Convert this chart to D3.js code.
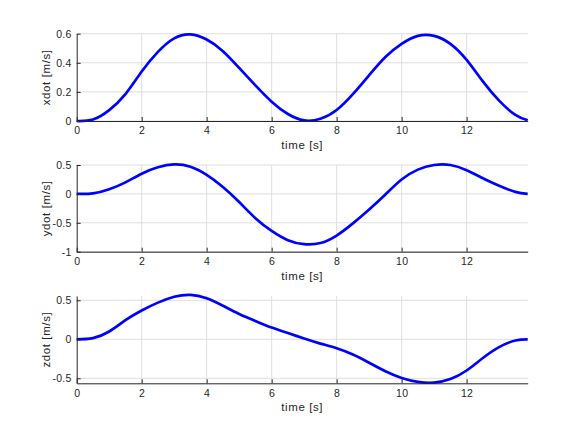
<!DOCTYPE html>
<html>
<head>
<meta charset="utf-8">
<script src="https://cdn.jsdelivr.net/npm/d3@7"></script>
<style>
  body { margin: 0; background: #fff; }
  svg text { font-family: "Liberation Sans", Arial, sans-serif; fill: #262626; }
</style>
</head>
<body>
<svg width="583" height="437"></svg>
<script>
// time samples [s]
var time = [0, 0.5, 1, 1.5, 2, 2.5, 3, 3.5, 4, 4.5, 5, 5.5, 6, 6.5, 7, 7.5, 8, 8.5, 9, 9.5,
            10, 10.5, 11, 11.5, 12, 12.5, 13, 13.5, 13.88];

var xdot = [0, 0.01, 0.075, 0.185, 0.34, 0.475, 0.568, 0.595, 0.56, 0.48, 0.365, 0.245, 0.133, 0.048, 0.004,
            0.015, 0.076, 0.185, 0.315, 0.44, 0.53, 0.585, 0.585, 0.53, 0.42, 0.272, 0.14, 0.042, 0.005];

var ydot = [0, 0.008, 0.08, 0.2, 0.35, 0.46, 0.51, 0.47, 0.33, 0.12, -0.14, -0.42, -0.64, -0.8, -0.87,
            -0.85, -0.72, -0.51, -0.27, -0.01, 0.25, 0.42, 0.5, 0.5, 0.41, 0.27, 0.14, 0.035, 0];

var zdot = [0, 0.015, 0.1, 0.245, 0.37, 0.47, 0.545, 0.57, 0.525, 0.43, 0.325, 0.235, 0.15, 0.08, 0.01,
            -0.055, -0.115, -0.195, -0.3, -0.41, -0.495, -0.545, -0.555, -0.51, -0.4, -0.24, -0.1, -0.015, 0];

var xTicks = [0, 2, 4, 6, 8, 10, 12];

var panels = [
  {label: "xdot [m/s]", values: xdot, top: 33.7, bottom: 121, domain: [0, 0.6], ticks: [0, 0.2, 0.4, 0.6]},
  {label: "ydot [m/s]", values: ydot, top: 165, bottom: 251.7, domain: [-1, 0.5], ticks: [-1, -0.5, 0, 0.5]},
  {label: "zdot [m/s]", values: zdot, top: 296, bottom: 383.3, domain: [-0.564, 0.555], ticks: [-0.5, 0, 0.5]}
];

var svg = d3.select("svg");
var left = 76.7, right = 527.7;
var axisColor = "#262626", gridColor = "#dfdfdf";

var x = d3.scaleLinear().domain([0, 13.88]).range([left, right]);

panels.forEach(function(p) {
    var y = d3.scaleLinear().domain(p.domain).range([p.bottom, p.top]);
    var g = svg.append("g");

    // grid
    g.selectAll(".vgrid").data(xTicks.filter(function(d) { return d > 0; }))
      .enter().append("line")
      .attr("x1", function(d) { return x(d); }).attr("x2", function(d) { return x(d); })
      .attr("y1", p.top).attr("y2", p.bottom)
      .attr("stroke", gridColor).attr("stroke-width", 1);
    g.selectAll(".hgrid").data(p.ticks)
      .enter().append("line")
      .attr("x1", left).attr("x2", right)
      .attr("y1", function(d) { return y(d); }).attr("y2", function(d) { return y(d); })
      .attr("stroke", gridColor).attr("stroke-width", 1);

    // data line
    var line = d3.line()
      .x(function(d, i) { return x(time[i]); })
      .y(function(d) { return y(d); })
      .curve(d3.curveNatural);
    g.append("path")
      .datum(p.values)
      .attr("d", line)
      .attr("fill", "none")
      .attr("stroke", "#0000ff")
      .attr("stroke-width", 2.7)
      .attr("stroke-linejoin", "round");

    // axes
    var xAxis = d3.axisBottom(x).tickValues(xTicks).tickSizeInner(-4).tickSizeOuter(0).tickPadding(6);
    var xg = g.append("g").attr("transform", "translate(0," + p.bottom + ")").call(xAxis);
    var yAxis = d3.axisLeft(y).tickValues(p.ticks).tickSizeInner(-4).tickSizeOuter(0).tickPadding(5)
      .tickFormat(function(d) { return String(d); });
    var yg = g.append("g").attr("transform", "translate(" + left + ",0)").call(yAxis);

    [xg, yg].forEach(function(a) {
        a.select(".domain").attr("stroke", axisColor);
        a.selectAll(".tick line").attr("stroke", axisColor);
        a.selectAll(".tick text").attr("font-size", 10.5).attr("fill", axisColor)
          .attr("letter-spacing", "0.3px")
          .attr("font-family", "Liberation Sans, Arial, sans-serif");
    });

    // labels
    g.append("text")
      .attr("x", (left + right) / 2).attr("y", p.bottom + 28)
      .attr("text-anchor", "middle").attr("font-size", 11.5)
      .attr("letter-spacing", "0.6px")
      .text("time [s]");
    g.append("text")
      .attr("transform", "translate(50," + ((p.top + p.bottom) / 2) + ") rotate(-90)")
      .attr("text-anchor", "middle").attr("font-size", 11.5)
      .attr("letter-spacing", "0.6px")
      .text(p.label);
});
</script>
</body>
</html>
